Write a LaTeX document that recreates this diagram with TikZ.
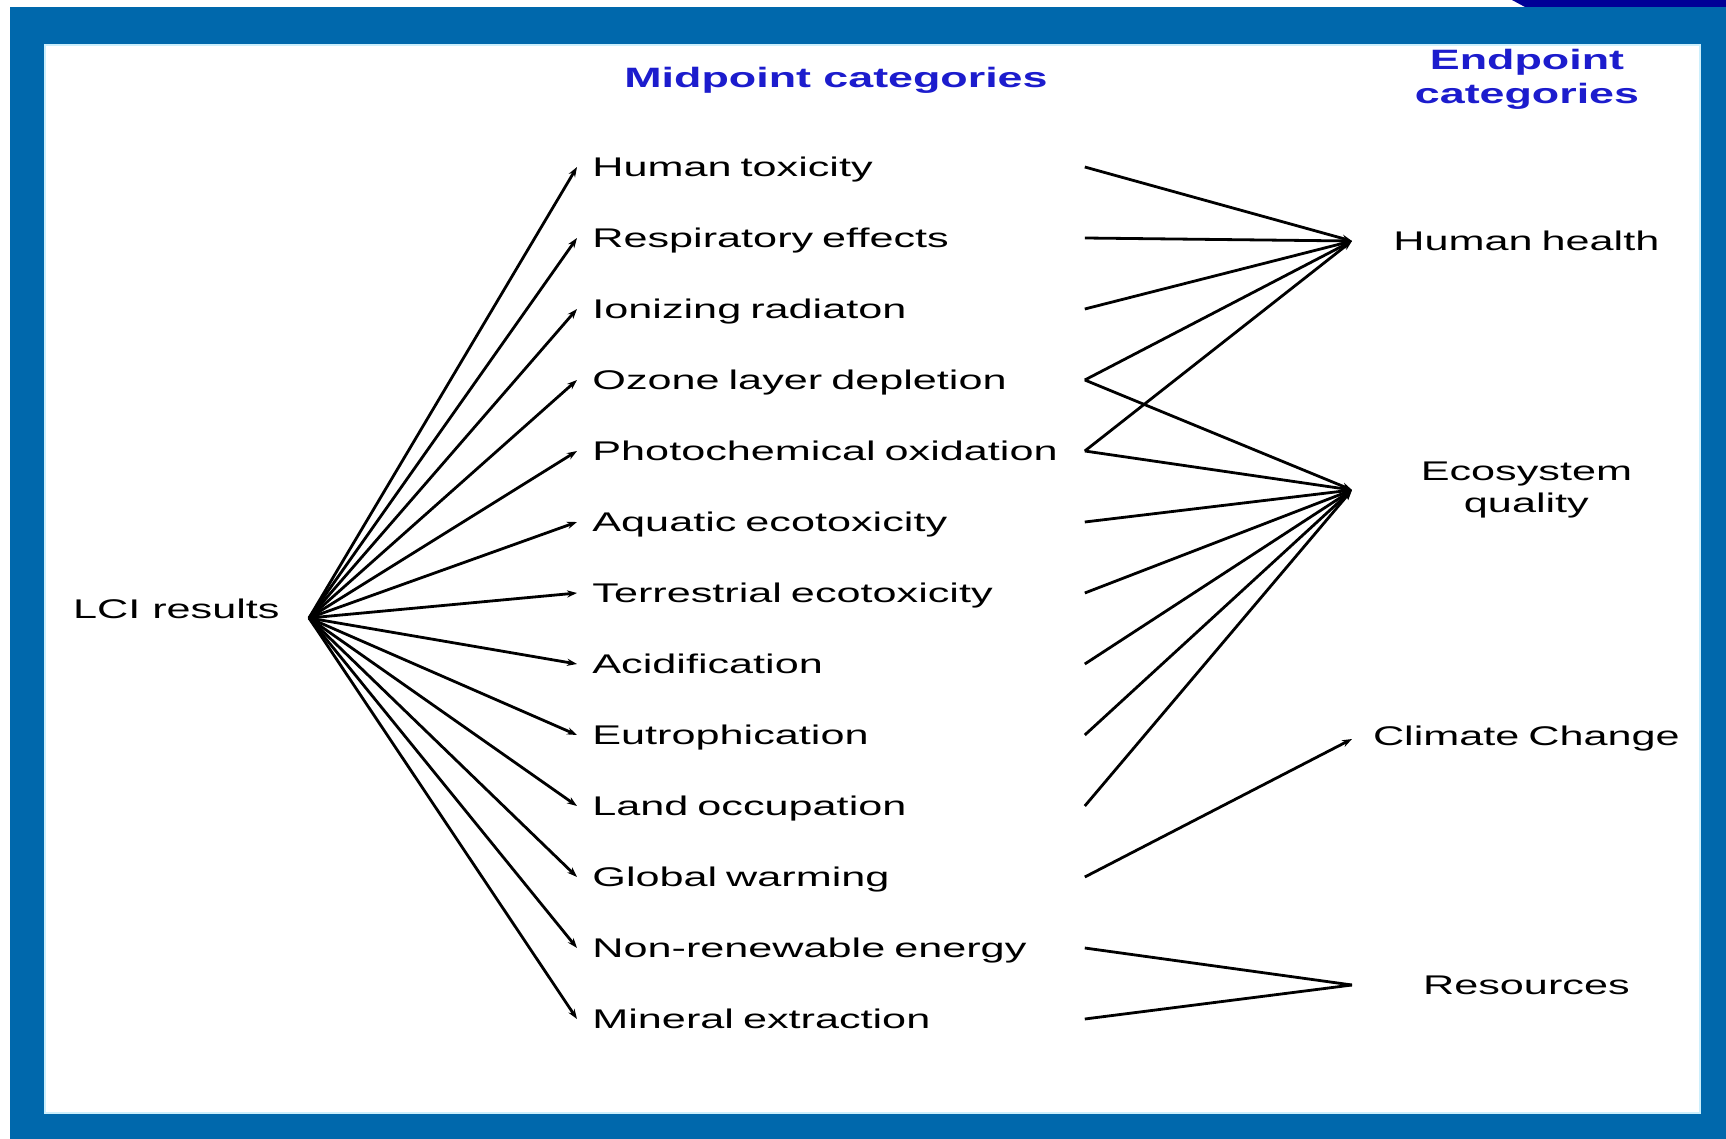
\documentclass[tikz,border=0pt]{standalone}
\usepackage{fontspec}
\setmainfont{Liberation Sans}
\newfontfamily\labfont[FakeStretch=1.6]{Liberation Sans}
\newfontfamily\headfont[FakeStretch=1.6]{Liberation Sans}
\usetikzlibrary{arrows.meta}
\definecolor{frameblue}{RGB}{0,104,172}
\definecolor{navytab}{RGB}{0,0,150}
\definecolor{headblue}{RGB}{28,28,205}
\begin{document}
\begin{tikzpicture}[x=0.5pt,y=-0.5pt,
  lab/.style={font=\labfont\fontsize{13.5}{16}\selectfont, inner sep=0pt},
  mid/.style={lab, text width=238.5pt, align=left, inner xsep=7.5pt, text height=9.7pt, text depth=0pt, anchor=west},
  endc/.style={lab, text width=160pt, align=center, inner xsep=7pt, anchor=west},
  head/.style={font=\headfont\bfseries\fontsize{14}{17}\selectfont, text=headblue, align=center, inner sep=0pt},
  fan/.style={line width=1.4pt, -{Stealth[length=5pt,width=3.6pt]}},
  link/.style={line width=1.4pt},
  linktip/.style={line width=1.4pt, -{Stealth[length=5pt,width=3.6pt]}},
]
\useasboundingbox (0,0) rectangle (1726,1139);
% frame
\fill[white] (0,0) rectangle (1726,1139);
\fill[frameblue] (10,7) rectangle (1726,1139);
\fill[navytab] (1512,0) .. controls (1518,4) .. (1525,7) -- (1726,7) -- (1726,0) -- cycle;
\fill[white] (45,45) rectangle (1700,1113);
\draw[cyan!20, line width=1pt] (45,45) rectangle (1700,1113);

% headers
\node[head] (hmid) at (836,80) {Midpoint categories};
\node[head] (hend) at (1527,79) {Endpoint\\categories};

% source
\node[lab, inner xsep=14.5pt, anchor=base east] (lci) at (309,618) {LCI results};

% midpoint categories
\node[mid] (m0) at (577,167) {Human toxicity};
\node[mid] (m1) at (577,238) {Respiratory effects};
\node[mid] (m2) at (577,309) {Ionizing radiaton};
\node[mid] (m3) at (577,380) {Ozone layer depletion};
\node[mid] (m4) at (577,451) {Photochemical oxidation};
\node[mid] (m5) at (577,522) {Aquatic ecotoxicity};
\node[mid] (m6) at (577,593) {Terrestrial ecotoxicity};
\node[mid] (m7) at (577,664) {Acidification};
\node[mid] (m8) at (577,735) {Eutrophication};
\node[mid] (m9) at (577,806) {Land occupation};
\node[mid] (m10) at (577,877) {Global warming};
\node[mid] (m11) at (577,948) {Non-renewable energy};
\node[mid] (m12) at (577,1019) {Mineral extraction};

% endpoint categories
\node[endc] (hh) at (1352,241) {Human health};
\node[endc] (eq) at (1352,490) {Ecosystem\\quality};
\node[endc] (cc) at (1352,739) {Climate Change};
\node[endc] (rs) at (1352,985) {Resources};

% fan from LCI results
\foreach \i in {0,...,12} \draw[fan] (lci.base east) -- (m\i.west);

% to Human health
\foreach \i in {0,...,4} \draw[linktip] (m\i.east) -- (hh.west);
% to Ecosystem quality
\foreach \i in {3,...,9} \draw[linktip] (m\i.east) -- (eq.west);
% to Climate Change
\draw[linktip] (m10.east) -- (cc.west);
% to Resources
\draw[link] (m11.east) -- (rs.west);
\draw[link] (m12.east) -- (rs.west);
\end{tikzpicture}
\end{document}
